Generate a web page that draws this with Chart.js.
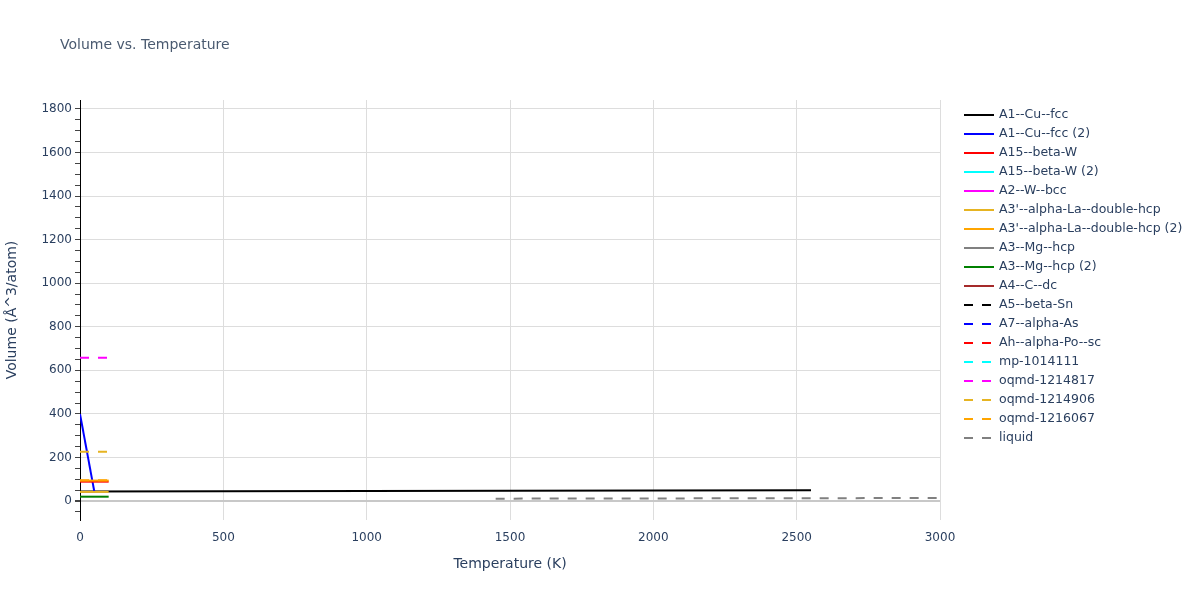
<!DOCTYPE html>
<html>
<head>
<meta charset="utf-8">
<script src="https://cdn.jsdelivr.net/npm/chart.js@4.4.1/dist/chart.umd.min.js"></script>
<style>
  html, body { margin: 0; padding: 0; background: #fff; }
</style>
</head>
<body>
<canvas id="volChart" width="1200" height="600"></canvas>
<script>
// values
var seriesNames = ["A1--Cu--fcc", "A1--Cu--fcc (2)", "A15--beta-W", "A15--beta-W (2)", "A2--W--bcc",
     "A3'--alpha-La--double-hcp", "A3'--alpha-La--double-hcp (2)", "A3--Mg--hcp", "A3--Mg--hcp (2)", "A4--C--dc",
     "A5--beta-Sn", "A7--alpha-As", "Ah--alpha-Po--sc", "mp-1014111", "oqmd-1214817", "oqmd-1214906", "oqmd-1216067", "liquid"];
var seriesColors = ["#000000", "#0000ff", "#ff0000", "#00ffff", "#ff00ff", "#e6b422", "#ffa500", "#808080", "#008000", "#a52a2a",
     "#000000", "#0000ff", "#ff0000", "#00ffff", "#ff00ff", "#e6b422", "#ffa500", "#808080"];
var dashed = [false, false, false, false, false, false, false, false, false, false,
     true, true, true, true, true, true, true, true];

// temperatures (K) and volumes (Å^3/atom) per series
var temps = [
     [0, 500, 1000, 1500, 2000, 2550],
     [0, 50],
     [0, 100],
     [],
     [],
     [0, 100],
     [0, 100],
     [],
     [0, 100],
     [],
     [],
     [],
     [],
     [],
     [0, 100],
     [0, 100],
     [0, 100],
     [1450, 2000, 2500, 3000]
];
var volumes = [
     [44, 45, 46, 47, 48, 49],
     [400, 43],
     [89, 89],
     [],
     [],
     [42, 42],
     [94, 94],
     [],
     [20, 20],
     [],
     [],
     [],
     [],
     [],
     [658, 658],
     [226, 226],
     [96, 96],
     [11, 12, 13, 14]
];

var xTicks = [0, 500, 1000, 1500, 2000, 2500, 3000];
var textColor = "#2a3f5f";
var fontFam = "'DejaVu Sans', Verdana, sans-serif";

var datasets = seriesNames.map(function (name, i) {
     return {
          label: name,
          data: temps[i].map(function (t, j) { return { x: t, y: volumes[i][j] }; }),
          borderColor: seriesColors[i],
          backgroundColor: seriesColors[i],
          borderWidth: 2,
          borderDash: dashed[i] ? [9, 9] : [],
          pointRadius: 0,
          showLine: true,
          order: seriesNames.length - i
     };
});

// title + plotly style legend drawn on the canvas
var extras = {
     id: 'extras',
     afterDraw: function (chart) {
          var ctx = chart.ctx;
          ctx.save();
          ctx.fillStyle = "#4a5a70";
          ctx.font = "14px " + fontFam;
          ctx.textBaseline = 'middle';
          ctx.textAlign = 'left';
          ctx.fillText("Volume vs. Temperature", 60, 45);

          ctx.font = "12.5px " + fontFam;
          seriesNames.forEach(function (name, i) {
               var y = 115 + i * 19;
               ctx.strokeStyle = seriesColors[i];
               ctx.lineWidth = 2;
               ctx.setLineDash(dashed[i] ? [9, 9] : []);
               ctx.beginPath();
               ctx.moveTo(964, y);
               ctx.lineTo(994, y);
               ctx.stroke();
               ctx.setLineDash([]);
               ctx.fillStyle = textColor;
               ctx.fillText(name, 999, y);
          });
          ctx.restore();
     }
};

var ctx = document.getElementById('volChart').getContext('2d');
var volChart = new Chart(ctx, {
     type: 'scatter',
     data: { datasets: datasets },
     plugins: [extras],
     options: {
          responsive: false,
          animation: false,
          devicePixelRatio: 1,
          layout: { padding: { top: 100, right: 260, bottom: 20, left: 0 } },
          scales: {
               x: {
                    type: 'linear',
                    min: 0,
                    max: 3000,
                    afterFit: function (s) { s.height = 60; },
                    afterBuildTicks: function (s) { s.ticks = xTicks.map(function (v) { return { value: v }; }); },
                    border: { display: false },
                    grid: { color: "#dddddd", lineWidth: 1, drawTicks: false },
                    ticks: { color: textColor, font: { size: 12, family: fontFam }, padding: 11, maxRotation: 0,
                         callback: function (v) { return String(v); } },
                    title: { display: true, text: "Temperature (K)", color: textColor, font: { size: 14, family: fontFam }, padding: { top: 6, bottom: 7 } }
               },
               y: {
                    min: -87,
                    max: 1841,
                    afterFit: function (s) { s.width = 80; },
                    afterBuildTicks: function (s) {
                         var t = [];
                         for (var v = -50; v <= 1800; v += 50) t.push({ value: v });
                         s.ticks = t;
                    },
                    border: { display: true, color: "#000000", width: 1 },
                    grid: {
                         color: function (c) {
                              if (c.tick && c.tick.value === 0) return "#c8c8c8";
                              return (c.tick && c.tick.value % 200 === 0) ? "#dddddd" : "rgba(0,0,0,0)";
                         },
                         lineWidth: function (c) { return (c.tick && c.tick.value === 0) ? 2 : 1; },
                         tickColor: "#444444",
                         tickLength: 5
                    },
                    ticks: {
                         color: textColor,
                         font: { size: 12, family: fontFam },
                         padding: 3,
                         autoSkip: false,
                         callback: function (v) { return v % 200 === 0 ? String(v) : ''; }
                    },
                    title: { display: true, text: "Volume (Å^3/atom)", color: textColor, font: { size: 14, family: fontFam }, padding: { bottom: 8 } }
               }
          },
          plugins: {
               legend: { display: false },
               tooltip: { enabled: false }
          }
     }
});
</script>
</body>
</html>
